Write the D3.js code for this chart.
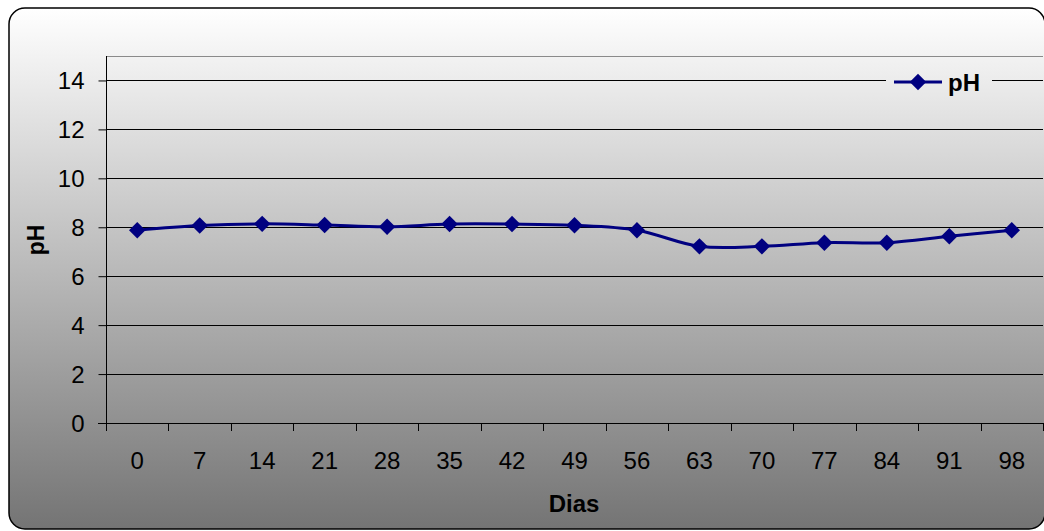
<!DOCTYPE html>
<html>
<head>
<meta charset="utf-8">
<script src="https://cdn.jsdelivr.net/npm/d3@7"></script>
<style>
  body { margin: 0; background: #fff; }
  text { font-family: "Liberation Sans", Arial, sans-serif; }
</style>
</head>
<body>
<svg id="chart" width="1044" height="531"></svg>
<script>
// data
var dias = ["0", "7", "14", "21", "28", "35", "42", "49", "56", "63", "70", "77", "84", "91", "98"];
var ph = [7.88, 8.07, 8.14, 8.09, 8.02, 8.13, 8.13, 8.08, 7.88, 7.22, 7.22, 7.37, 7.37, 7.63, 7.88];
var yTicks = [0, 2, 4, 6, 8, 10, 12, 14];

var svg = d3.select("#chart");

// plot area
var pLeft = 106, pRight = 1043, pTop = 56, pBottom = 423;

var defs = svg.append("defs");
var grad = defs.append("linearGradient")
  .attr("id", "bg")
  .attr("gradientUnits", "userSpaceOnUse")
  .attr("x1", 0).attr("y1", 8).attr("x2", 0).attr("y2", 529);
grad.append("stop").attr("offset", "0%").attr("stop-color", "#ffffff");
grad.append("stop").attr("offset", "100%").attr("stop-color", "#747474");

// outer frame
svg.append("rect")
  .attr("x", 9).attr("y", 8)
  .attr("width", 1036).attr("height", 521)
  .attr("rx", 16).attr("ry", 16)
  .attr("fill", "url(#bg)")
  .attr("stroke", "#000")
  .attr("stroke-width", 1.5);

var xScale = d3.scaleBand().domain(dias).range([pLeft, pRight]);
var yScale = d3.scaleLinear().domain([0, 15]).range([pBottom, pTop]);
function cx(i) { return xScale(dias[i]) + xScale.bandwidth() / 2; }

// plot area top border
svg.append("line")
  .attr("x1", pLeft).attr("x2", pRight)
  .attr("y1", pTop + 0.5).attr("y2", pTop + 0.5)
  .attr("stroke", "#8a8a8a").attr("stroke-width", 1);

// gridlines
svg.append("g").selectAll("line")
  .data(yTicks.slice(1)).enter()
  .append("line")
  .attr("x1", pLeft).attr("x2", pRight)
  .attr("y1", function (d) { return Math.round(yScale(d)) + 0.5; })
  .attr("y2", function (d) { return Math.round(yScale(d)) + 0.5; })
  .attr("stroke", "#000").attr("stroke-width", 1);

// y axis
var yAxis = d3.axisLeft(yScale).tickValues(yTicks).tickSize(8).tickPadding(14);
var gy = svg.append("g")
  .attr("transform", "translate(" + (pLeft + 0.5) + ",0)")
  .call(yAxis);
gy.select(".domain").attr("d", "M0," + pTop + "V" + pBottom).attr("stroke", "#000");
gy.selectAll(".tick line").attr("stroke", "#000");
gy.selectAll("text")
  .style("font-size", "24px")
  .attr("fill", "#000")
  .attr("dy", "0.35em");

// x axis (ticks between categories)
var gx = svg.append("g");
gx.append("line")
  .attr("x1", pLeft - 8).attr("x2", pRight)
  .attr("y1", pBottom + 0.5).attr("y2", pBottom + 0.5)
  .attr("stroke", "#000");
var tickPos = dias.map(function (d) { return xScale(d); }).concat([pRight]);
gx.selectAll("line.tk")
  .data(tickPos).enter()
  .append("line")
  .attr("class", "tk")
  .attr("x1", function (d) { return Math.round(d) + 0.5; })
  .attr("x2", function (d) { return Math.round(d) + 0.5; })
  .attr("y1", pBottom).attr("y2", pBottom + 8)
  .attr("stroke", "#000");
gx.selectAll("text")
  .data(dias).enter()
  .append("text")
  .attr("x", function (d, i) { return cx(i); })
  .attr("y", pBottom + 46)
  .attr("text-anchor", "middle")
  .style("font-size", "24px")
  .text(function (d) { return d; });

// axis titles
svg.append("text")
  .attr("x", 574).attr("y", 512)
  .attr("text-anchor", "middle")
  .style("font-size", "24px").style("font-weight", "bold")
  .text("Dias");
svg.append("text")
  .attr("transform", "translate(44,240) rotate(-90)")
  .attr("text-anchor", "middle")
  .style("font-size", "23px").style("font-weight", "bold")
  .text("pH");

// series
var line = d3.line()
  .x(function (d, i) { return cx(i); })
  .y(function (d) { return yScale(d); })
  .curve(d3.curveCatmullRom.alpha(0.5));

svg.append("path")
  .datum(ph)
  .attr("d", line)
  .attr("fill", "none")
  .attr("stroke", "#000080")
  .attr("stroke-width", 3);

var diamond = d3.symbol().type(d3.symbolSquare).size(135);
svg.append("g").selectAll("path")
  .data(ph).enter()
  .append("path")
  .attr("d", diamond)
  .attr("transform", function (d, i) {
    return "translate(" + cx(i) + "," + yScale(d) + ") rotate(45)";
  })
  .attr("fill", "#000080");

// legend
var lg = svg.append("g");
lg.append("rect")
  .attr("x", 886).attr("y", 66)
  .attr("width", 106).attr("height", 30)
  .attr("fill", "url(#bg)");
lg.append("line")
  .attr("x1", 894).attr("x2", 942)
  .attr("y1", 82).attr("y2", 82)
  .attr("stroke", "#000080").attr("stroke-width", 3);
lg.append("path")
  .attr("d", diamond)
  .attr("transform", "translate(918,82) rotate(45)")
  .attr("fill", "#000080");
lg.append("text")
  .attr("x", 948).attr("y", 91)
  .style("font-size", "24px").style("font-weight", "bold")
  .text("pH");
</script>
</body>
</html>
